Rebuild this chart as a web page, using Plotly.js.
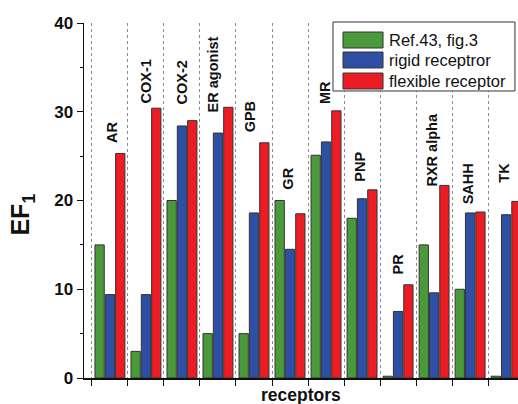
<!DOCTYPE html>
<html>
<head>
<meta charset="utf-8">
<script src="https://cdn.plot.ly/plotly-3.0.1.min.js"></script>
<style>
html,body{margin:0;padding:0;overflow:hidden;background:#fff;}
#chart{width:518px;height:404px;}
</style>
</head>
<body>
<div id="chart"></div>
<script>
// ---- data ----
const categories = ['AR','COX-1','COX-2','ER agonist','GPB','GR','MR','PNP','PR','RXR alpha','SAHH','TK'];
const ref43      = [15.0, 3.0, 20.0, 5.0, 5.0, 20.0, 25.1, 18.0, 0.2, 15.0, 10.0, 0.2];
const rigid      = [9.4, 9.4, 28.4, 27.6, 18.6, 14.5, 26.6, 20.2, 7.5, 9.6, 18.6, 18.4];
const flexible   = [25.3, 30.4, 29.0, 30.5, 26.5, 18.5, 30.1, 21.2, 10.5, 21.7, 18.7, 19.9];
const seriesNames = ['Ref.43, fig.3', 'rigid receptror', 'flexible receptor'];
const yTicks = [0, 10, 20, 30, 40];

// ---- label placement (layout only) ----
const labelBaseY  = [26.3, 30.7, 30.6, 29.7, 27.4, 21.0, 30.6, 21.9, 11.4, 21.3, 19.3, 21.8];
const labelShiftX = [2, 0, 0, -5, -4, -2, -1, -2, 0, -2, -2, -3];

const FONT = 'Liberation Sans, Arial, sans-serif';
const colors = ['#4a9a3c', '#2e4fa3', '#ec1c24'];
const series = [ref43, rigid, flexible];

const traces = series.map((vals, i) => ({
  type: 'bar',
  name: seriesNames[i],
  x: categories,
  y: vals,
  marker: {color: colors[i], line: {color: '#333', width: 1}},
  hoverinfo: 'none',
  showlegend: false
}));

// category labels above each group
const annotations = categories.map((c, i) => ({
  x: c, xref: 'x',
  y: labelBaseY[i], yref: 'y',
  xshift: labelShiftX[i],
  text: c,
  textangle: -90,
  showarrow: false,
  xanchor: 'center', yanchor: 'bottom',
  font: {family: FONT, size: 14.5, color: '#111', weight: 'bold'}
}));

// axis titles
annotations.push({
  xref: 'paper', yref: 'paper', x: 0.5, y: -0.048,
  text: 'receptors', showarrow: false,
  xanchor: 'center', yanchor: 'middle',
  font: {family: FONT, size: 17.5, color: '#111', weight: 'bold'}
});
annotations.push({
  xref: 'paper', yref: 'paper', x: -0.1417, y: 0.459,
  text: 'EF<sub>1</sub>', showarrow: false, textangle: -90,
  xanchor: 'center', yanchor: 'middle',
  font: {family: FONT, size: 25, color: '#111', weight: 'bold'}
});

// legend (wide swatches like the original)
const shapes = [{
  type: 'rect', xref: 'paper', yref: 'paper',
  x0: 0.5737, x1: 0.993, y0: 0.8085, y1: 1.0028,
  fillcolor: '#fff', line: {color: '#333', width: 1}, layer: 'above'
}];
const legY = [0.9521, 0.8958, 0.8366];
seriesNames.forEach((n, i) => {
  shapes.push({
    type: 'rect', xref: 'paper', yref: 'paper',
    x0: 0.5968, x1: 0.689, y0: legY[i] - 0.0225, y1: legY[i] + 0.0225,
    fillcolor: colors[i], line: {color: '#333', width: 1}, layer: 'above'
  });
  annotations.push({
    xref: 'paper', yref: 'paper', x: 0.698, y: legY[i],
    text: n, showarrow: false, xanchor: 'left', yanchor: 'middle',
    font: {family: FONT, size: 16.5, color: '#111'}
  });
});

const boundaries = categories.map((c, i) => i - 0.5).concat([categories.length - 0.5]);
const xRange = [-0.72, 11.33];

const layout = {
  width: 518, height: 404,
  margin: {l: 84, r: 0, t: 23, b: 26},
  paper_bgcolor: '#fff', plot_bgcolor: '#fff',
  barmode: 'group',
  bargap: 0.14,
  bargroupgap: 0.1,
  showlegend: false,
  xaxis: {
    type: 'category',
    range: xRange,
    tickson: 'boundaries',
    ticks: 'outside', ticklen: 6, tickwidth: 1, tickcolor: '#111',
    showticklabels: false,
    showgrid: true, gridcolor: '#8a8a8a', griddash: 'dot', gridwidth: 1,
    showline: true, linecolor: '#111', linewidth: 1.5,
    zeroline: false
  },
  xaxis2: {
    overlaying: 'x', side: 'top', anchor: 'y',
    range: xRange,
    tickmode: 'array', tickvals: boundaries,
    ticks: 'inside', ticklen: 5, tickwidth: 1, tickcolor: '#111',
    showticklabels: false, showgrid: false,
    showline: true, linecolor: '#111', linewidth: 1.5,
    zeroline: false
  },
  yaxis: {
    range: [0, 40],
    tickmode: 'array', tickvals: yTicks,
    ticks: 'outside', ticklen: 6, tickwidth: 1, tickcolor: '#111',
    minor: {dtick: 5, ticks: 'outside', ticklen: 3, tickcolor: '#111', showgrid: false},
    tickfont: {family: FONT, size: 17, color: '#111', weight: 'bold'},
    showgrid: false,
    showline: true, linecolor: '#111', linewidth: 1.5,
    zeroline: false
  },
  shapes: shapes,
  annotations: annotations
};

Plotly.newPlot('chart', traces, layout, {staticPlot: true, displayModeBar: false});
</script>
</body>
</html>
